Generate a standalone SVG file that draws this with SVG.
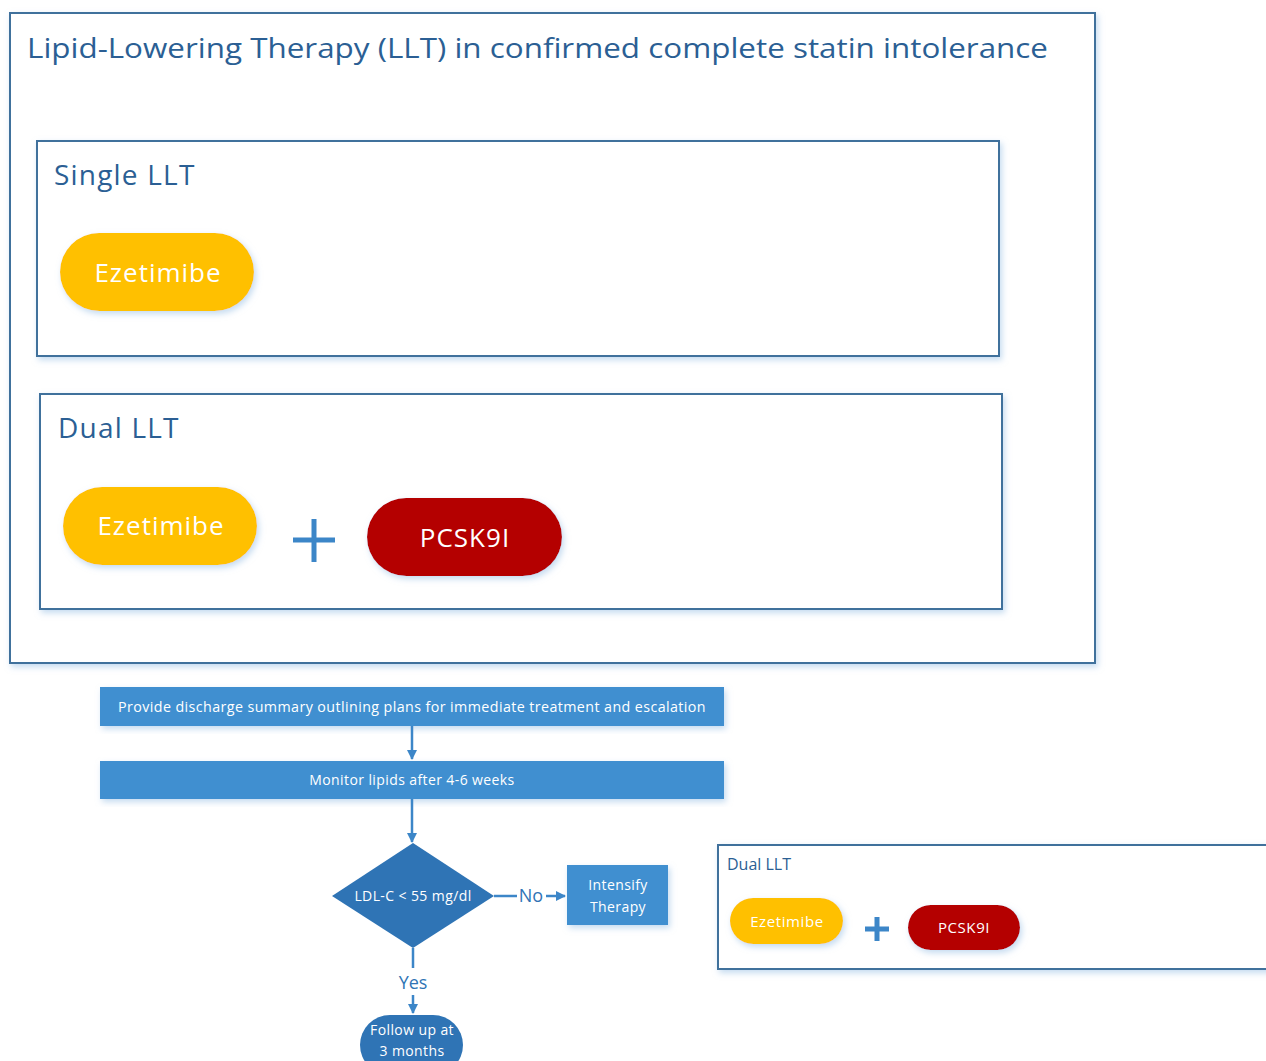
<svg xmlns="http://www.w3.org/2000/svg" width="1266" height="1061" viewBox="0 0 1266 1061">
<defs>
<filter id="sh" x="-10%" y="-10%" width="125%" height="130%">
<feDropShadow dx="2" dy="3" stdDeviation="3" flood-color="#9DC3E6" flood-opacity="0.6"/>
</filter>
<marker id="ah" viewBox="0 0 10 10" refX="9" refY="5" markerWidth="4" markerHeight="4" orient="auto" markerUnits="strokeWidth">
<path d="M0,0 L10,5 L0,10 z" fill="#3C86C8"/>
</marker>
</defs>
<style>
.frame{fill:#fff;stroke:#41719C;stroke-width:2}
.head{font-family:"Open Sans","Lato",sans-serif;fill:#2B5F94}
.pill{font-family:"Open Sans","Lato",sans-serif;fill:#fff;text-anchor:middle}
.ez{fill:#FFC000}
.pc{fill:#B40000}
.plus{stroke:#3C86C8;stroke-width:5;fill:none}
.box{fill:#418FD0}
.dk{fill:#2F74B5}
.wt{font-family:"Open Sans","Lato",sans-serif;fill:#fff;text-anchor:middle;font-size:14px;letter-spacing:0.4px}
.conn{stroke:#3C86C8;stroke-width:2.5;fill:none}
.lbl{font-family:"Open Sans","Lato",sans-serif;fill:#2F74B5;font-size:18px;text-anchor:middle}
</style>
<rect width="1266" height="1061" fill="#fff"/>
<g id="main-frame">
<rect class="frame" x="10" y="13" width="1085" height="650" filter="url(#sh)"/>
<text class="head" x="27" y="58" font-size="27" textLength="1021" lengthAdjust="spacingAndGlyphs">Lipid-Lowering Therapy (LLT) in confirmed complete statin intolerance</text>
</g>
<g id="single-llt">
<rect class="frame" x="37" y="141" width="962" height="215" filter="url(#sh)"/>
<text class="head" x="54" y="185" font-size="28" letter-spacing="1.2">Single LLT</text>
</g>
<g id="ezetimibe-1">
<rect class="ez" x="60" y="233" width="194" height="78" rx="39" filter="url(#sh)"/>
<text class="pill" x="158" y="282" font-size="26" letter-spacing="1">Ezetimibe</text>
</g>
<g id="dual-llt">
<rect class="frame" x="40" y="394" width="962" height="215" filter="url(#sh)"/>
<text class="head" x="58" y="438" font-size="28" letter-spacing="1.2">Dual LLT</text>
</g>
<g id="ezetimibe-2">
<rect class="ez" x="63" y="487" width="194" height="78" rx="39" filter="url(#sh)"/>
<text class="pill" x="161" y="535" font-size="26" letter-spacing="1">Ezetimibe</text>
</g>
<g id="plus-1">
<path class="plus" d="M293,540 H335 M314,519 V562"/>
</g>
<g id="pcsk9i-1">
<rect class="pc" x="367" y="498" width="195" height="78" rx="39" filter="url(#sh)"/>
<text class="pill" x="465" y="547" font-size="26" letter-spacing="1">PCSK9I</text>
</g>
<g id="discharge">
<rect class="box" x="100" y="687" width="624" height="39" filter="url(#sh)"/>
<text class="wt" x="412" y="712" textLength="588" lengthAdjust="spacingAndGlyphs">Provide discharge summary outlining plans for immediate treatment and escalation</text>
</g>
<g id="monitor">
<rect class="box" x="100" y="761" width="624" height="38" filter="url(#sh)"/>
<text class="wt" x="412" y="785" letter-spacing="0.8">Monitor lipids after 4-6 weeks</text>
</g>
<g id="decision">
<path class="dk" d="M413,843 L494,896 L413,948 L332,896 z"/>
<text class="wt" x="413" y="901">LDL-C &lt; 55 mg/dl</text>
</g>
<g id="intensify">
<rect class="box" x="567" y="865" width="101" height="60" filter="url(#sh)"/>
<text class="wt" x="618" y="890">Intensify</text>
<text class="wt" x="618" y="912">Therapy</text>
</g>
<g id="follow-up">
<rect class="dk" x="360" y="1015" width="103" height="60" rx="30"/>
<text class="wt" x="412" y="1035">Follow up at</text>
<text class="wt" x="412" y="1056">3 months</text>
</g>
<g id="dual-llt-small">
<rect class="frame" x="718" y="845" width="560" height="124" filter="url(#sh)"/>
<text class="head" x="727" y="870" font-size="16">Dual LLT</text>
<rect class="ez" x="730" y="898" width="113" height="46" rx="23" filter="url(#sh)"/>
<text class="pill" x="787" y="927" font-size="15" letter-spacing="0.6">Ezetimibe</text>
<path class="plus" d="M865,929 H889 M877,917 V941" stroke-width="3.5"/>
<rect class="pc" x="908" y="905" width="112" height="45" rx="22.5" filter="url(#sh)"/>
<text class="pill" x="964" y="933" font-size="15" letter-spacing="0.6">PCSK9I</text>
</g>
<g id="connectors">
<line class="conn" x1="412" y1="726" x2="412" y2="759" marker-end="url(#ah)"/>
<line class="conn" x1="412" y1="799" x2="412" y2="842" marker-end="url(#ah)"/>
<line class="conn" x1="494" y1="896" x2="517" y2="896"/>
<text class="lbl" x="531" y="902">No</text>
<line class="conn" x1="546" y1="896" x2="565" y2="896" marker-end="url(#ah)"/>
<line class="conn" x1="413" y1="948" x2="413" y2="968"/>
<text class="lbl" x="413" y="989">Yes</text>
<line class="conn" x1="413" y1="995" x2="413" y2="1013" marker-end="url(#ah)"/>
</g>
</svg>
